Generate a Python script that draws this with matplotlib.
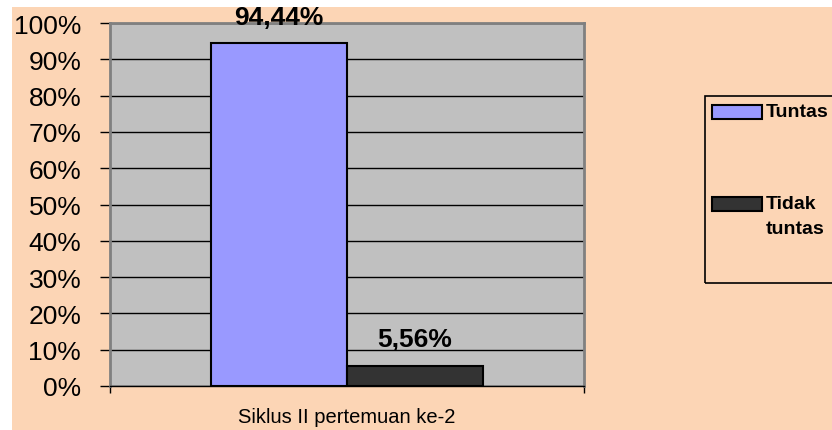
import matplotlib.pyplot as plt
from matplotlib.patches import Rectangle

# data
series = ['Tuntas', 'Tidak\ntuntas']
values = [94.44, 5.56]
value_labels = ['94,44%', '5,56%']
category = 'Siklus II pertemuan ke-2'
colors = ['#9999FF', '#333333']
yticks = list(range(0, 101, 10))

plt.rcParams['font.family'] = ['Liberation Sans', 'DejaVu Sans']

W, H = 832, 431
fig = plt.figure(figsize=(W / 100, H / 100), dpi=100, facecolor='white')

# peach background (white strip on top and left like the original)
fig.patches.append(Rectangle((12 / W, 0), 1, (H - 8) / H, transform=fig.transFigure,
                             facecolor='#FCD5B5', edgecolor='none', zorder=-5))

ax = fig.add_axes([110 / W, (H - 387) / H, (584 - 110) / W, (387 - 24) / H])
ax.set_facecolor('#C0C0C0')

xs = list(range(len(values)))
bars = ax.bar(xs, values, width=1.0, color=colors, edgecolor='black', linewidth=1.5, zorder=3)
for x, v, lab in zip(xs, values, value_labels):
    ax.text(x, v + 4, lab, ha='center', va='bottom', fontsize=19, fontweight='bold',
            zorder=4, clip_on=False)

ax.set_xlim(-1.243, 2.243)
ax.set_ylim(0, 100)
ax.set_yticks(yticks)
ax.set_yticklabels([f'{t}%' for t in yticks], fontsize=19)
ax.yaxis.grid(True, color='black', linewidth=1.0, zorder=1)
ax.set_axisbelow(True)
ax.tick_params(axis='y', length=7.2, width=1, color='black', pad=13.5)
ax.set_xticks([-1.243, 2.243])
ax.set_xticklabels(['', ''])
ax.tick_params(axis='x', length=5, width=1, color='black')

for side in ['left', 'top', 'right']:
    ax.spines[side].set_color('#808080')
    ax.spines[side].set_linewidth(2)
ax.spines['bottom'].set_color('black')
ax.spines['bottom'].set_linewidth(1)

fig.text(347 / W, (H - 418) / H, category, ha='center', va='center', fontsize=14.5)

# legend box drawn by hand to match the wide spacing
fig.patches.append(Rectangle((705 / W, (H - 284) / H), 140 / W, (284 - 97) / H,
                             transform=fig.transFigure, facecolor='none',
                             edgecolor='black', linewidth=1.2, zorder=2))
patch_tops = [106, 198]
for top, c, name in zip(patch_tops, colors, series):
    fig.patches.append(Rectangle((712 / W, (H - top - 14) / H), 50 / W, 14 / H,
                                 transform=fig.transFigure, facecolor=c,
                                 edgecolor='black', linewidth=1.5, zorder=3))
    fig.text(766 / W, (H - top + 2) / H, name, ha='left', va='top',
             fontsize=14, fontweight='bold', linespacing=1.6)

fig.savefig('out.png', dpi=100, facecolor=fig.get_facecolor())
